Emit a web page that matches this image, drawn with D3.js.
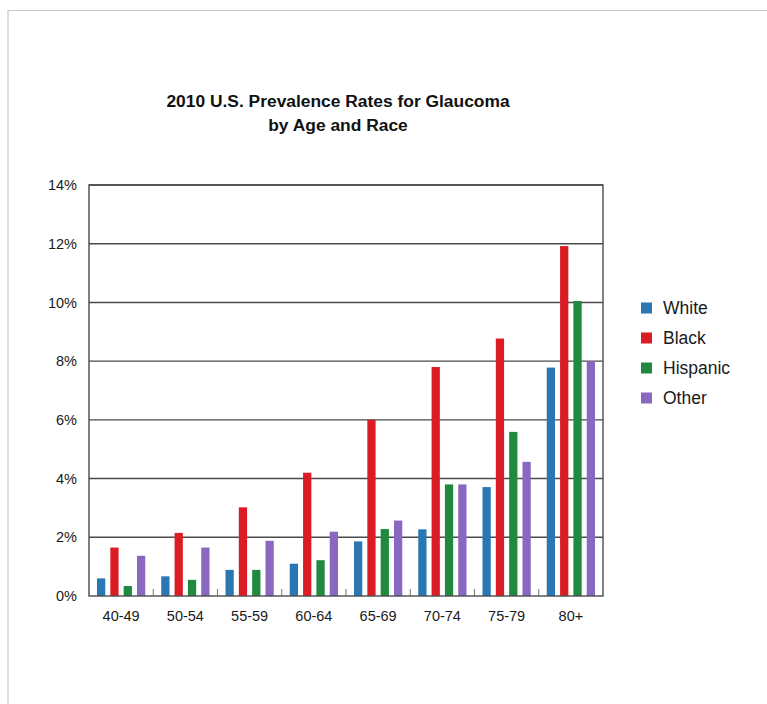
<!DOCTYPE html>
<html><head><meta charset="utf-8">
<script src="https://cdn.jsdelivr.net/npm/d3@7"></script>
<style>body{margin:0;background:#fff}svg{display:block}</style>
</head><body>
<svg id="c" width="767" height="704"></svg>
<script>
const categories = ["40-49","50-54","55-59","60-64","65-69","70-74","75-79","80+"];
const seriesNames = ["White","Black","Hispanic","Other"];
const white    = [0.60, 0.67, 0.89, 1.10, 1.86, 2.27, 3.71, 7.78];
const black    = [1.65, 2.15, 3.02, 4.20, 6.00, 7.80, 8.77, 11.92];
const hispanic = [0.34, 0.55, 0.89, 1.22, 2.28, 3.80, 5.59, 10.05];
const other    = [1.37, 1.65, 1.88, 2.19, 2.57, 3.80, 4.57, 8.00];
const yTicks = [0, 2, 4, 6, 8, 10, 12, 14];
const titleLines = ["2010 U.S. Prevalence Rates for Glaucoma", "by Age and Race"];
const colors = ["#2b77b3", "#dc1c24", "#1f8a3e", "#8868c0"];

const series = [white, black, hispanic, other];
const svg = d3.select("#c");
const font = "'Liberation Sans', Arial, sans-serif";

// outer frame
svg.append("path").attr("d","M8,704 V10.5 H767").attr("fill","none").attr("stroke","#c8c8c8").attr("stroke-width",1.2);

const L = 89, R = 603, T = 185, B = 596;
const x = d3.scaleBand().domain(categories).range([L, R]).paddingInner(0).paddingOuter(0);
const xs = d3.scaleBand().domain(seriesNames).range([0, x.bandwidth()]).paddingInner(0.38).paddingOuter(0.6);
const y = d3.scaleLinear().domain([0, 14]).range([B, T]);

// title
svg.append("g").selectAll("text").data(titleLines).join("text")
  .attr("x", 338).attr("y", (d,i)=>106.5 + i*24.5)
  .attr("text-anchor","middle").attr("font-family",font).attr("font-weight","bold")
  .attr("font-size",17.4).attr("fill","#111").text(d=>d);

// gridlines
svg.append("g").selectAll("line").data(yTicks.filter(t=>t>0)).join("line")
  .attr("x1",L).attr("x2",R).attr("y1",d=>y(d)).attr("y2",d=>y(d))
  .attr("stroke","#4a4a4a").attr("stroke-width",1.4);

// y axis labels
const yAxis = d3.axisLeft(y).tickValues(yTicks).tickFormat(d=>d+"%").tickSize(0).tickPadding(12);
const gy = svg.append("g").attr("transform",`translate(${L},0)`).call(yAxis);
gy.select(".domain").remove();
gy.selectAll("text").attr("font-family",font).attr("font-size",14.5).attr("fill","#1a1a1a");

// bars
const groups = svg.append("g").selectAll("g").data(categories).join("g")
  .attr("transform", d=>`translate(${x(d)},0)`);
groups.selectAll("rect").data((c,ci)=>series.map((s,si)=>({name:seriesNames[si], v:s[ci], si})))
  .join("rect")
  .attr("x", d=>xs(d.name)).attr("width", xs.bandwidth())
  .attr("y", d=>y(d.v)).attr("height", d=>B - y(d.v))
  .attr("fill", d=>colors[d.si]);

// group separator ticks
svg.append("g").selectAll("line").data(categories.slice(1)).join("line")
  .attr("x1",d=>x(d)).attr("x2",d=>x(d)).attr("y1",B).attr("y2",B-7)
  .attr("stroke","#777").attr("stroke-width",1);

// x axis labels
const xAxis = d3.axisBottom(x).tickSize(0).tickPadding(15);
const gx = svg.append("g").attr("transform",`translate(0,${B})`).call(xAxis);
gx.select(".domain").remove();
gx.selectAll("text").attr("font-family",font).attr("font-size",14.5).attr("fill","#1a1a1a");

// plot frame
svg.append("rect").attr("x",L).attr("y",T).attr("width",R-L).attr("height",B-T)
  .attr("fill","none").attr("stroke","#4a4a4a").attr("stroke-width",1.4);

// legend
const lg = svg.append("g").selectAll("g").data(seriesNames).join("g")
  .attr("transform",(d,i)=>`translate(641,${308 + i*30})`);
lg.append("rect").attr("x",0).attr("y",-5.5).attr("width",11).attr("height",11).attr("fill",(d,i)=>colors[i]);
lg.append("text").attr("x",22).attr("y",0).attr("dy","0.35em")
  .attr("font-family",font).attr("font-size",17.5).attr("fill","#1a1a1a").text(d=>d);
</script>
</body></html>
